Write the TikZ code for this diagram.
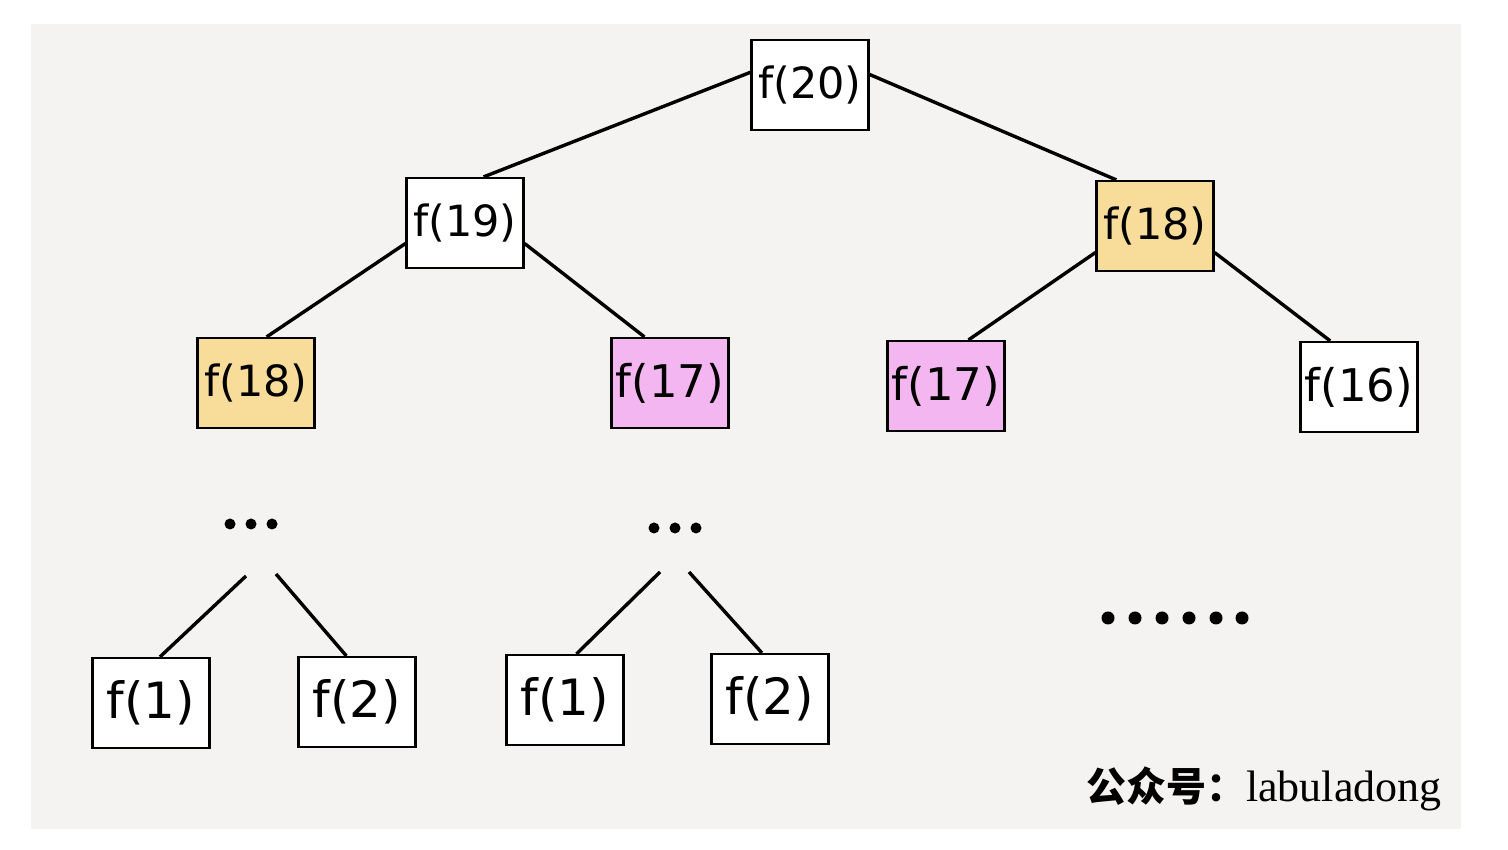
\documentclass[tikz,border=0pt]{standalone}
\usepackage{fontspec}
\setmainfont{DejaVu Sans}
\newfontfamily\cjkfont{Noto Sans CJK SC}
\newfontfamily\serifwm{Liberation Serif}
\definecolor{paper}{HTML}{F4F3F1}
\definecolor{memoyellow}{HTML}{F8DC9A}
\definecolor{dupepink}{HTML}{F4B6F0}
\tikzset{
  fbox/.style={draw=black, line width=1.1pt, rectangle, minimum width=58.5pt, minimum height=45pt, inner sep=0pt, fill=white},
  ybox/.style={fbox, fill=memoyellow},
  pbox/.style={fbox, fill=dupepink},
  fsA/.style={font=\fontsize{21.5}{24}\selectfont},
  fsB/.style={font=\fontsize{22.5}{25}\selectfont},
  fsC/.style={font=\fontsize{25}{28}\selectfont},
  edge/.style={line width=1.7pt, black},
  dotmark/.style={fill=black, circle, inner sep=0pt, minimum size=5.5pt},
  bigdot/.style={fill=black, circle, inner sep=0pt, minimum size=6.5pt}
}
\begin{document}
\begin{tikzpicture}[x=0.5pt, y=0.5pt]
\useasboundingbox (0,0) rectangle (1508,850);
\fill[white] (0,0) rectangle (1508,850);
\fill[paper] (31,21) rectangle (1461,826);
% nodes
\node[fbox, fsA] (n20) at (810,765) {f(20)};
\node[fbox, fsA] (n19) at (465,627) {f(19)};
\node[ybox, fsA] (n18R) at (1155,624) {f(18)};
\node[ybox, fsA] (n18L) at (256,467) {f(18)};
\node[pbox, fsB] (n17M) at (670,467) {f(17)};
\node[pbox, fsB] (n17R) at (946,464) {f(17)};
\node[fbox, fsB] (n16) at (1359,463) {f(16)};
\node[fbox, fsC] (n1L) at (151,147) {f(1)};
\node[fbox, fsC] (n2L) at (357,148) {f(2)};
\node[fbox, fsC] (n1M) at (565,150) {f(1)};
\node[fbox, fsC] (n2M) at (770,151) {f(2)};
% ellipsis dots
\node[dotmark] (dl1) at (230,326) {};
\node[dotmark] (dl2) at (251,326) {};
\node[dotmark] (dl3) at (272,326) {};
\node[dotmark] (dm1) at (654,322) {};
\node[dotmark] (dm2) at (675,322) {};
\node[dotmark] (dm3) at (696,322) {};
\foreach \i/\x in {1/1108,2/1135,3/1162,4/1189,5/1216,6/1242}{
  \node[bigdot] (dr\i) at (\x,232) {};
}
\coordinate (cl1) at (246,274);
\coordinate (cl2) at (276,276);
\coordinate (cm1) at (660,278);
\coordinate (cm2) at (689,278);
% edges
\draw[edge] (n20.168) -- (n19.68);
\draw[edge] (n20.10) -- (n18R.130);
\draw[edge] (n19.199) -- (n18L.77);
\draw[edge] (n19.341) -- (n17M.119);
\draw[edge] (n18R.204) -- (n17R.64);
\draw[edge] (n18R.336) -- (n16.122);
\draw[edge] (cl1) -- (n1L.79);
\draw[edge] (cl2) -- (n2L.103);
\draw[edge] (cm1) -- (n1M.76);
\draw[edge] (cm2) -- (n2M.100);
% watermark
\node[anchor=base east, inner sep=0pt] (wm) at (1442,48) {{\cjkfont\bfseries\fontsize{20}{24}\selectfont 公众号：}{\serifwm\fontsize{22}{26}\selectfont labuladong}};
\end{tikzpicture}
\end{document}
